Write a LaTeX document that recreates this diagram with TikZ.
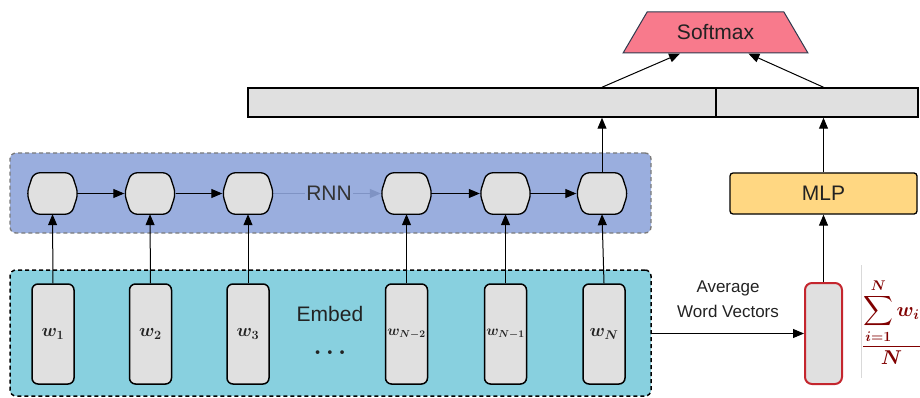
\RequirePackage{fix-cm}
\documentclass[tikz,border=0pt]{standalone}
\usepackage{amsmath}
\usepackage{bm}
\usepackage{fontspec}
\setmainfont{Liberation Sans}
\usetikzlibrary{arrows.meta,shapes.misc,shapes.geometric,calc}
\definecolor{rnnblue}{HTML}{9AAEDE}
\definecolor{embcyan}{HTML}{88D0DF}
\definecolor{cellgray}{HTML}{E0E0E0}
\definecolor{softpink}{HTML}{F87A8C}
\definecolor{softedge}{HTML}{2E3A4E}
\definecolor{mlpyellow}{HTML}{FFD782}
\definecolor{avgred}{HTML}{C4262E}
\definecolor{fred}{HTML}{800000}
\definecolor{txt}{HTML}{222222}
\definecolor{dashgray}{HTML}{7A7A7A}
\definecolor{rnnarrow}{HTML}{7F93C4}
\begin{document}
\begin{tikzpicture}[x=1pt,y=-1pt,
  every node/.style={font=\fontsize{21}{25}\selectfont, text=txt},
  cellbase/.style={rectangle, draw=none, minimum width=51pt, minimum height=41pt, inner sep=0pt},
  cellline/.style={draw=black, line width=1.3pt, fill=cellgray, rounded corners=6pt},
  wbox/.style={draw=black, rounded corners=6pt, line width=1.5pt, fill=cellgray, minimum width=42pt, minimum height=100pt, inner sep=0pt, font=\fontsize{18}{20}\selectfont},
  arr/.style={-{Triangle[length=11pt,width=9pt]}, line width=1pt},
  panel/.style={dashed, dash pattern=on 4pt off 3pt, rounded corners=6pt, minimum width=641pt, inner sep=0pt},
]
\useasboundingbox (0,0) rectangle (920,398);
% panels
\node[panel, draw=dashgray, line width=1.3pt, fill=rnnblue, minimum height=80pt] (rnnbox) at (330.5,193) {};
\node[panel, draw=black, line width=1.5pt, fill=embcyan, minimum height=126pt] (embbox) at (330.5,333) {};
% RNN cells
\foreach \i/\x in {1/52.5,2/150,3/248,4/406.5,5/505.5,6/602}{
  \node[cellbase] (c\i) at (\x,193.5) {};
  \path[cellline] ([xshift=-19pt]c\i.north) -- ([xshift=19pt]c\i.north) -- (c\i.east)
    -- ([xshift=19pt]c\i.south) -- ([xshift=-19pt]c\i.south) -- (c\i.west) -- cycle;
}
% word boxes
\node[wbox] (w1) at (53,334) {$\bm{w_1}$};
\node[wbox] (w2) at (150.5,334) {$\bm{w_2}$};
\node[wbox] (w3) at (248,334) {$\bm{w_3}$};
\node[wbox, font=\fontsize{14.5}{16}\selectfont] (w4) at (406.5,334) {$\bm{w_{N-2}}$};
\node[wbox, font=\fontsize{14.5}{16}\selectfont] (w5) at (505.5,334) {$\bm{w_{N-1}}$};
\node[wbox] (w6) at (604,334) {$\bm{w_N}$};
\foreach \i in {1,...,6}
  \draw[arr] (w\i.north) -- (c\i.south);
% horizontal RNN arrows
\draw[arr] (c1.east) -- (c2.west);
\draw[arr] (c2.east) -- (c3.west);
\draw[arr, draw=rnnarrow, fill=rnnarrow] (c3.east) -- (c4.west);
\draw[arr] (c4.east) -- (c5.west);
\draw[arr] (c5.east) -- (c6.west);
\node[fill=rnnblue, inner sep=1pt, text=black!80] (rnnlbl) at (329,193.5) {RNN};
\node (emblbl) at (330,314) {Embed};
\node[font=\fontsize{24}{26}\selectfont] (dots) at (330,353) {$\bm{\ldots}$};
% concat bar
\node[draw=black, line width=1.5pt, fill=cellgray, minimum width=468pt, minimum height=29pt, inner sep=0pt] (barL) at (482,102.5) {};
\node[draw=black, line width=1.5pt, fill=cellgray, minimum width=202pt, minimum height=29pt, inner sep=0pt] (barR) at (817,102.5) {};
% softmax
\node[trapezium, trapezium stretches=true, trapezium left angle=48.7, trapezium right angle=48.7, minimum width=185pt, minimum height=41pt, inner sep=0pt, draw=softedge, line width=1pt, fill=softpink] (soft) at (715.5,32.5) {Softmax};
% MLP and average
\node[draw=black, line width=1.3pt, fill=mlpyellow, rounded corners=3pt, minimum width=187pt, minimum height=41pt, inner sep=0pt] (mlp) at (823.5,193.5) {MLP};
\node[draw=avgred, line width=2pt, rounded corners=7pt, fill=cellgray, minimum width=37pt, minimum height=101pt, inner sep=0pt] (avg) at (823.5,333.5) {};
\node[align=center, font=\fontsize{17}{25}\selectfont] (avglbl) at (728,299) {Average\\Word Vectors};
% connectors
\draw[arr] (c6.north) -- (c6.north |- barL.south);
\draw[arr] (c6.north |- barL.north) -- ($(soft.bottom left corner)!0.31!(soft.bottom right corner)$);
\draw[arr] (mlp.north |- barR.north) -- ($(soft.bottom left corner)!0.676!(soft.bottom right corner)$);
\draw[arr] (mlp.north) -- (mlp.north |- barR.south);
\draw[arr] (avg.north) -- (mlp.south);
\draw[arr] (avg.west -| embbox.east) -- (avg.west);
% formula
\draw[black!15, line width=0.6pt] (861,265) -- (861,378);
\node[anchor=west, text=fred, font=\fontsize{20}{24}\selectfont, inner sep=0pt] (formula) at (862,322) {$\displaystyle\frac{\displaystyle\sum_{\bm{i=1}}^{\bm{N}}\bm{w_i}}{\bm{N}}$};
\end{tikzpicture}
\end{document}
